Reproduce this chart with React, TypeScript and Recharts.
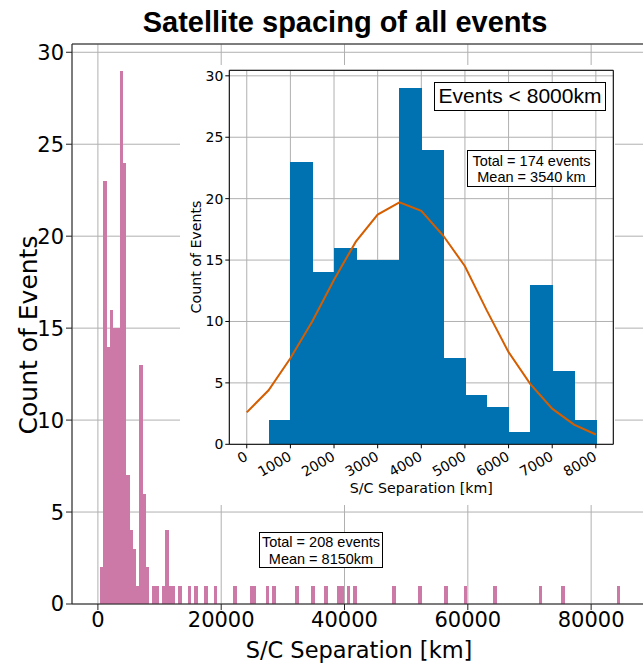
import { BarChart, Bar, LineChart, Line, XAxis, YAxis, CartesianGrid, ReferenceLine } from 'recharts';

// full histogram: bins of ~527 km starting at 350 km
const mainBinStart = 350;
const mainBinWidth = 527;
const mainBinCount = 160;
const mainNearCounts = [2, 23, 14, 16, 15, 15, 29, 24, 7, 4, 3, 1, 13, 6, 2];
// single events beyond ~8 000 km
const farEvents = [
  8900, 9450, 10700, 11250, 11250, 11250, 11250, 11800, 12300, 13350, 14800, 15800,
  17250, 18850, 22250, 24800, 25350, 27300, 28750, 32300, 34900, 36850, 38900, 39450,
  40900, 41900, 47900, 52400, 56300, 59900, 64400, 71850, 75450, 84350,
];
const mainXTicks = [0, 20000, 40000, 60000, 80000];
const mainYTicks = [0, 5, 10, 15, 20, 25, 30];

// inset: events < 8000 km, 500 km bins from 0
const insetBinWidth = 500;
const insetCounts = [0, 2, 23, 14, 16, 15, 15, 29, 24, 7, 4, 3, 1, 13, 6, 2];
const fitX = [0, 500, 1000, 1500, 2000, 2500, 3000, 3500, 4000, 4500, 5000, 5500, 6000, 6500, 7000, 7500, 8000];
const fitY = [2.6, 4.4, 7.0, 10.0, 13.4, 16.5, 18.7, 19.7, 19.0, 17.0, 14.5, 10.9, 7.5, 4.9, 2.9, 1.6, 0.8];
const insetXTicks = [0, 1000, 2000, 3000, 4000, 5000, 6000, 7000, 8000];
const insetYTicks = [0, 5, 10, 15, 20, 25, 30];

const mainRows = Array.from({ length: mainBinCount }, (_, i) => {
  const lo = mainBinStart + i * mainBinWidth;
  const far = farEvents.filter((v) => v >= lo && v < lo + mainBinWidth).length;
  return { x: lo + mainBinWidth / 2, n: (mainNearCounts[i] ?? 0) + far };
});
const insetRows = insetCounts.map((n, i) => ({ x: (i + 0.5) * insetBinWidth, n }));
const fitRows = fitX.map((x, i) => ({ x, y: fitY[i] }));

const dejavu = 'DejaVu Sans';
const arial = '"Liberation Sans", Arial, sans-serif';
const gridColor = '#b0b0b0';

// recharts truncates the bar width to whole pixels; widen slightly so neighbouring bins touch
function SolidBar(p: any) {
  if (!p.height) return null;
  return <rect x={p.x} y={p.y} width={p.width + 0.5} height={p.height} fill={p.fill} shapeRendering="crispEdges" />;
}

function SlantTick({ x, y, payload }: any) {
  const ax = x + 2;
  const ay = y + 9;
  return (
    <text x={ax} y={ay} transform={`rotate(-30 ${ax} ${ay})`} textAnchor="end" fontSize={14} fontFamily={dejavu} fill="#000">
      {payload.value}
    </text>
  );
}

const boxStyle: React.CSSProperties = {
  position: 'absolute',
  border: '1.5px solid #000',
  background: '#fff',
  fontFamily: arial,
  textAlign: 'center',
  boxSizing: 'border-box',
  color: '#000',
};

export default function App() {
  return (
    <div style={{ position: 'absolute', left: 0, top: 0, width: 643, height: 665, overflow: 'hidden', background: '#fff' }}>
      <div style={{ position: 'absolute', left: 0, top: 8, width: 690, textAlign: 'center', fontFamily: arial, fontWeight: 'bold', fontSize: 29, lineHeight: '29px' }}>
        Satellite spacing of all events
      </div>

      <div style={{ position: 'absolute', left: 0, top: 0 }}>
        <BarChart width={700} height={665} data={mainRows} margin={{ top: 44, right: 54, left: 12, bottom: 0 }} barCategoryGap={0}>
          <XAxis
            type="number"
            dataKey="x"
            domain={[-4200, 88900]}
            ticks={mainXTicks}
            interval={0}
            allowDataOverflow
            height={61}
            tickSize={6}
            stroke="#222"
            tick={{ fontSize: 21, fill: '#000', fontFamily: dejavu }}
          />
          <YAxis
            type="number"
            domain={[0, 30.45]}
            ticks={mainYTicks}
            interval={0}
            allowDataOverflow
            width={60}
            tickSize={6}
            stroke="#222"
            tick={{ fontSize: 21, fill: '#000', fontFamily: dejavu }}
          />
          <Bar dataKey="n" fill="#CC79A7" shape={<SolidBar />} isAnimationActive={false} />
          <CartesianGrid stroke={gridColor} strokeWidth={1} />
          <ReferenceLine y={30.45} stroke="#222" />
        </BarChart>
      </div>

      <div style={{ position: 'absolute', left: 0, top: 638, width: 718, textAlign: 'center', fontFamily: dejavu, fontSize: 22.5, lineHeight: '24px' }}>
        S/C Separation [km]
      </div>
      <div style={{ position: 'absolute', left: 28, top: 335, transform: 'translate(-50%, -50%) rotate(-90deg)', whiteSpace: 'nowrap', fontFamily: dejavu, fontSize: 25, lineHeight: '27px' }}>
        Count of Events
      </div>

      <div style={{ ...boxStyle, left: 259, top: 532, width: 124, height: 36, fontSize: 14.5, lineHeight: '16.5px', paddingTop: 1 }}>
        Total = 208 events
        <br />
        Mean = 8150km
      </div>

      <div style={{ position: 'absolute', left: 180, top: 65, width: 435, height: 440, background: '#fff' }}>
        <div style={{ position: 'absolute', left: 0, top: 0 }}>
          <BarChart width={435} height={440} data={insetRows} margin={{ top: 5.3, right: 1.7, left: 9.3, bottom: 10.7 }} barCategoryGap={0}>
            <XAxis
              type="number"
              dataKey="x"
              domain={[-400, 8400]}
              ticks={insetXTicks}
              interval={0}
              allowDataOverflow
              height={50}
              tickSize={4}
              stroke="#000"
              tick={<SlantTick />}
            />
            <YAxis
              type="number"
              domain={[0, 30.45]}
              ticks={insetYTicks}
              interval={0}
              allowDataOverflow
              width={40}
              tickSize={4}
              stroke="#000"
              tick={{ fontSize: 14, fill: '#000', fontFamily: dejavu }}
            />
            <Bar dataKey="n" fill="#0072B2" shape={<SolidBar />} isAnimationActive={false} />
            <CartesianGrid stroke={gridColor} strokeWidth={1} />
            <ReferenceLine y={30.45} stroke="#000" />
            <ReferenceLine x={8400} stroke="#000" />
          </BarChart>
        </div>
        <div style={{ position: 'absolute', left: 0, top: 0 }}>
          <LineChart width={435} height={440} data={fitRows} margin={{ top: 5.3, right: 1.7, left: 49.3, bottom: 60.7 }}>
            <XAxis type="number" dataKey="x" domain={[-400, 8400]} hide allowDataOverflow />
            <YAxis type="number" domain={[0, 30.45]} hide allowDataOverflow />
            <Line type="linear" dataKey="y" stroke="#D55E00" strokeWidth={2} dot={false} isAnimationActive={false} />
          </LineChart>
        </div>
      </div>

      <div style={{ position: 'absolute', left: 229.3, top: 480, width: 384, textAlign: 'center', fontFamily: dejavu, fontSize: 14.2, lineHeight: '16px' }}>
        S/C Separation [km]
      </div>
      <div style={{ position: 'absolute', left: 196, top: 257, transform: 'translate(-50%, -50%) rotate(-90deg)', whiteSpace: 'nowrap', fontFamily: dejavu, fontSize: 14.2, lineHeight: '16px' }}>
        Count of Events
      </div>

      <div style={{ ...boxStyle, left: 434, top: 82, width: 172, height: 29, fontSize: 21, lineHeight: '26px' }}>
        Events &lt; 8000km
      </div>
      <div style={{ ...boxStyle, left: 467, top: 150, width: 129, height: 37, fontSize: 14.5, lineHeight: '16.5px', paddingTop: 1.5 }}>
        Total = 174 events
        <br />
        Mean = 3540 km
      </div>
    </div>
  );
}
